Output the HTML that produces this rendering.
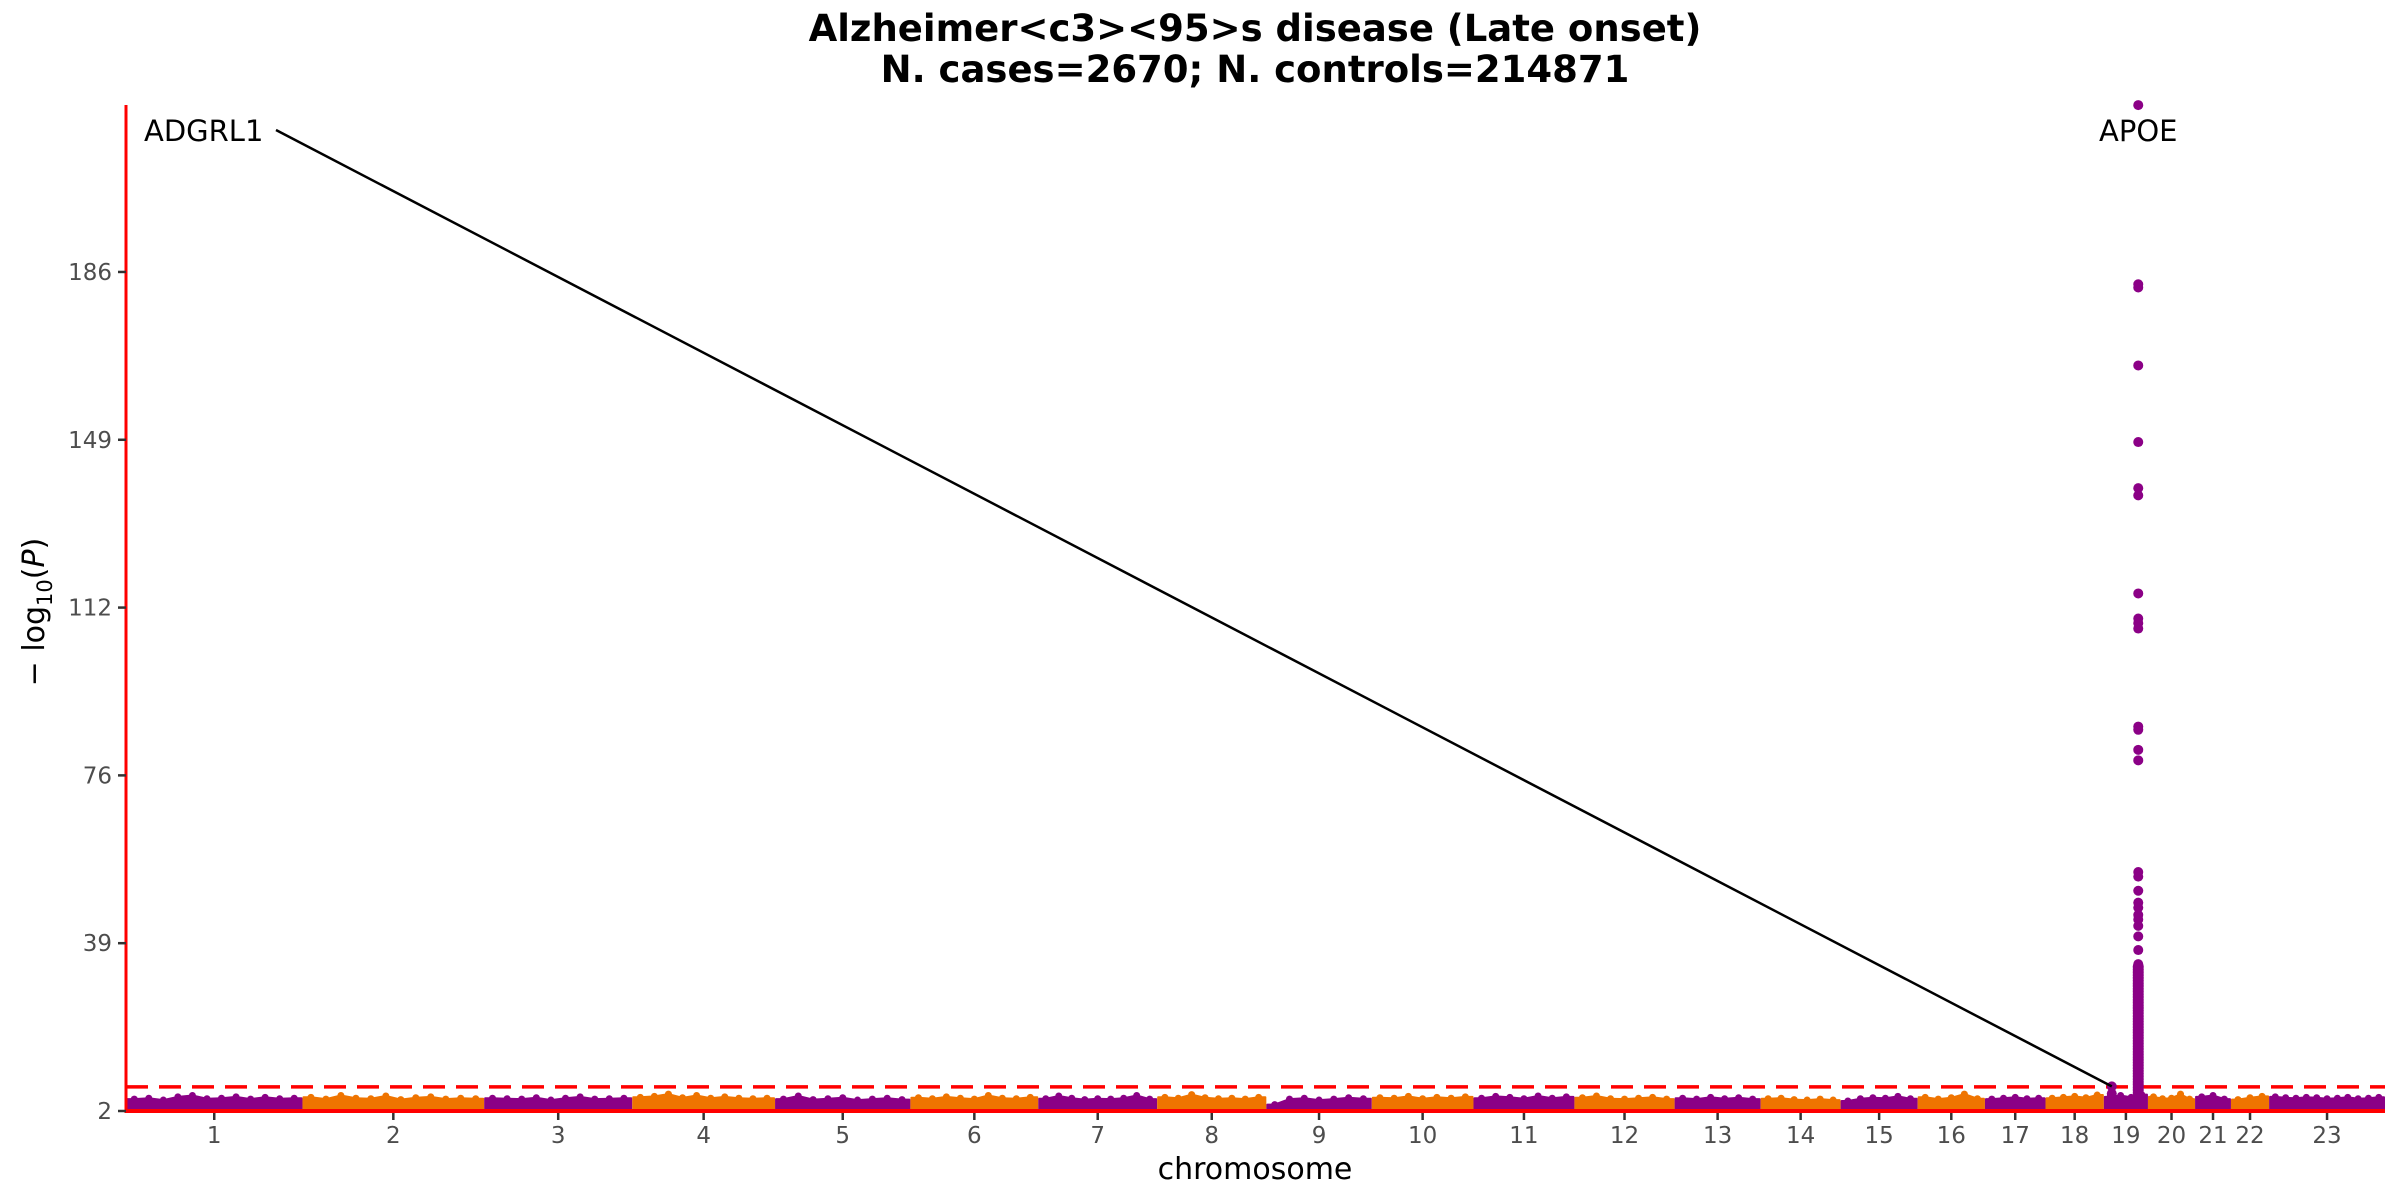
<!DOCTYPE html>
<html><head><meta charset="utf-8"><style>
html,body{margin:0;padding:0;background:#fff}
svg{display:block;font-family:"DejaVu Sans","Liberation Sans",sans-serif}
</style></head><body>
<svg id="chart" width="2400" height="1200" viewBox="0 0 2400 1200" xmlns="http://www.w3.org/2000/svg">
<rect width="2400" height="1200" fill="#fff"/>
<text x="1255" y="41" text-anchor="middle" font-size="37" font-weight="bold">Alzheimer&lt;c3&gt;&lt;95&gt;s disease (Late onset)</text>
<text x="1255" y="82" text-anchor="middle" font-size="37" font-weight="bold">N. cases=2670; N. controls=214871</text>
<g id="bands"></g>
<g id="yaxis"></g>
<g id="xaxis"></g>
<g id="apoe"></g>
<text x="1255" y="1179" text-anchor="middle" font-size="30">chromosome</text>
<text transform="translate(44,612) rotate(-90)" text-anchor="middle" font-size="30">− log<tspan font-size="21" dy="8">10</tspan><tspan dy="-8">(</tspan><tspan font-style="italic">P</tspan>)</text>
</svg>
<script>
const chromosomes=["1","2","3","4","5","6","7","8","9","10","11","12","13","14","15","16","17","18","19","20","21","22","23"];
const chromLengths=[236,243,198,191,181,171,159,146,141,136,135,134,115,107,103,90,81,78,59,63,48,51,155];
const bgHeights=[
[4.6,4.8,4.4,5.1,5.4,4.7,4.8,5.1,4.6,5.0,4.7,4.8],
[5.0,4.6,5.4,4.8,4.7,5.3,4.5,4.9,5.1,4.6,4.8,4.7],
[4.8,4.7,4.6,4.9,4.4,4.8,5.1,4.6,4.7,4.8],
[5.0,5.2,5.7,4.9,5.4,4.8,5.1,4.8,4.7,4.8],
[4.6,5.3,4.5,4.7,4.9,4.4,4.6,4.8,4.5],
[4.9,4.7,5.1,4.8,4.6,5.4,4.8,4.7,5.0],
[4.7,5.3,4.8,4.5,4.7,4.6,4.8,5.4,4.6],
[5.0,4.8,5.6,4.9,4.7,4.8,4.6,5.0],
[3.4,4.6,4.8,4.4,4.6,4.9,4.7],
[4.9,4.8,5.2,4.7,5.0,4.8,5.1],
[4.8,5.2,5.0,4.7,5.3,4.8,5.1],
[4.9,5.3,4.7,4.6,4.8,5.0,4.6],
[4.8,4.6,5.0,4.7,4.9,4.6],
[4.7,4.8,4.5,4.4,4.6,4.4],
[4.2,4.7,4.9,4.8,5.2,4.7],
[5.0,4.6,4.9,5.7,4.7],
[4.6,4.8,5.0,4.7,4.8],
[4.8,5.0,5.2,4.9,5.5],
[5.1,5.4,5.0,5.6],
[5.1,4.7,4.8,5.7,4.6],
[5.1,5.4,4.6],
[4.5,4.9,5.2],
[5.1,4.9,4.8,5.0,4.9,4.7,4.8,5.0,4.7,4.8,5.0]
];
const apoeValues=[222.6,183.3,182.6,165.5,148.7,138.6,137,115.5,110,109,107.8,86.3,85.6,81.2,78.9,54.4,53.4,50.3,47.7,46.6,45,44,42.6,40.3,37.3,34.2,33,32,31,30,29,28,27,26,25,24,23,22,21,20,19,18,17,16,15,14,13,12,11,10,9,8,7,6];
const adgrlValues=[7.4,5.8];
const yTicks=[2,38.8,75.6,112.4,149.2,186];
const yTickLabels=["2","39","76","112","149","186"];
const labels=["ADGRL1","APOE"];

const NS="http://www.w3.org/2000/svg";
const X0=126,X1=2385,Y0=1111,PX=4.56;
const total=chromLengths.reduce((a,b)=>a+b,0);
const starts=[];let acc=0;for(const l of chromLengths){starts.push(acc);acc+=l;}
const xs=mb=>X0+mb/total*(X1-X0);
const ys=v=>Y0-(v-2)*PX;
const colors=["#8b0086","#ef7400"];
function mk(tag,attrs,parent){const e=document.createElementNS(NS,tag);for(const k in attrs)e.setAttribute(k,attrs[k]);parent.appendChild(e);return e;}
const bands=document.getElementById('bands');
chromosomes.forEach((c,i)=>{
  const h=bgHeights[i],xa=xs(starts[i])+1,xb=xs(starts[i]+chromLengths[i])-1;
  let d=`M${xa},${Y0} L${xa},${ys(h[0]).toFixed(1)}`;
  h.forEach((v,j)=>{const x=xa+(xb-xa)*(j+0.5)/h.length;d+=` L${x.toFixed(1)},${ys(v).toFixed(1)}`;});
  d+=` L${xb},${ys(h[h.length-1]).toFixed(1)} L${xb},${Y0} Z`;
  const p=mk('path',{d:d,fill:colors[i%2],stroke:colors[i%2],'stroke-width':2,'stroke-linejoin':'round'},bands);
  
  
  h.forEach((v,j)=>{const x=xa+(xb-xa)*(j+0.5)/h.length;mk('circle',{cx:x,cy:ys(v),r:3.5,fill:colors[i%2]},bands);});
});
const th=mk('line',{x1:X0,x2:X1,y1:ys(7.3),y2:ys(7.3),stroke:'#ff0000','stroke-width':3.5,'stroke-dasharray':'22 11'},bands);


const ya=document.getElementById('yaxis');
mk('line',{x1:X0,x2:X0,y1:105,y2:Y0+2,stroke:'#ff0000','stroke-width':3},ya);
yTicks.forEach((v,i)=>{
  mk('line',{x1:X0-8,x2:X0,y1:ys(v),y2:ys(v),stroke:'#333','stroke-width':2.5},ya);
  const t=mk('text',{x:X0-14,y:ys(v)+8,'text-anchor':'end','font-size':23,fill:'#4d4d4d'},ya);
  t.textContent=yTickLabels[i];
  
  
});
const xa=document.getElementById('xaxis');
mk('line',{x1:X0,x2:X1,y1:Y0,y2:Y0,stroke:'#ff0000','stroke-width':4},xa);
chromosomes.forEach((c,i)=>{
  const x=xs(starts[i]+chromLengths[i]/2);
  mk('line',{x1:x,x2:x,y1:Y0+2,y2:Y0+9,stroke:'#333','stroke-width':2.5},xa);
  const t=mk('text',{x:x,y:1143,'text-anchor':'middle','font-size':23,fill:'#4d4d4d'},xa);
  t.textContent=c;
  
  
});
const ap=document.getElementById('apoe');
const apoeX=xs(starts[18]+chromLengths[18]*0.78);
const adX=xs(starts[18]+chromLengths[18]*0.18);
for(let v=6;v<34;v+=0.6){mk('circle',{cx:apoeX,cy:ys(v),r:5.5,fill:'#8b0086'},ap);}
apoeValues.forEach(v=>{
  const c=mk('circle',{cx:apoeX,cy:ys(v),r:5,fill:'#8b0086'},ap);
  
  
});
adgrlValues.forEach(v=>{
  const c=mk('circle',{cx:adX,cy:ys(v),r:5,fill:'#8b0086'},ap);
  
  
});
const ln=mk('line',{x1:276,y1:130,x2:adX,y2:ys(adgrlValues[0]),stroke:'#000','stroke-width':2.5},ap);


const l1=mk('text',{x:144,y:141,'font-size':29},ap);l1.textContent=labels[0];


const l2=mk('text',{x:apoeX,y:141,'text-anchor':'middle','font-size':29},ap);l2.textContent=labels[1];


</script>
</body></html>
